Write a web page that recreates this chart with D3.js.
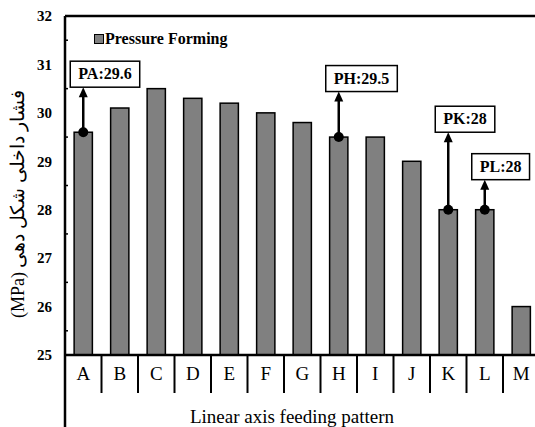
<!DOCTYPE html>
<html>
<head>
<meta charset="utf-8">
<script src="https://cdn.jsdelivr.net/npm/d3@7"></script>
<style>
  body { margin: 0; background: #fff; }
</style>
</head>
<body>
<svg width="535" height="427" style="font-family: 'Liberation Serif', 'Times New Roman', Times, serif;"></svg>
<script>

let categories = ['A', 'B', 'C', 'D', 'E', 'F', 'G', 'H', 'I', 'J', 'K', 'L', 'M'];
let pressure = [29.6, 30.1, 30.5, 30.3, 30.2, 30.0, 29.8, 29.5, 29.5, 29.0, 28.0, 28.0, 26.0];
let yTicks = [25, 26, 27, 28, 29, 30, 31, 32];

// callouts: category, label, arrow tip value
let calloutCats = ['A', 'H', 'K', 'L'];
let calloutLabels = ['PA:29.6', 'PH:29.5', 'PK:28', 'PL:28'];
let calloutTips = [30.53, 30.44, 29.6, 28.62];

let svg = d3.select('svg');
let width = +svg.attr('width');
let height = +svg.attr('height');

let margin = { top: 16, right: -4.5, bottom: 72, left: 65 };

let x = d3.scaleBand()
    .domain(categories)
    .range([margin.left, width - margin.right])
    .paddingInner(0.5)
    .paddingOuter(0.25);

let cell = d3.scaleBand()
    .domain(categories)
    .range([margin.left, width - margin.right]);

let y = d3.scaleLinear()
    .domain([25, 32])
    .range([height - margin.bottom, margin.top]);

// bars
svg.selectAll('rect.bar')
    .data(pressure)
    .enter().append('rect')
    .attr('class', 'bar')
    .attr('x', (d, i) => x(categories[i]))
    .attr('y', d => y(d))
    .attr('width', x.bandwidth())
    .attr('height', d => y(25) - y(d))
    .style('fill', '#808080')
    .style('stroke', '#000')
    .style('stroke-width', 1.5);

// minor ticks on left axis (inside)
svg.append('g')
    .selectAll('line')
    .data(d3.range(25.5, 32, 1))
    .enter().append('line')
    .attr('x1', margin.left)
    .attr('x2', margin.left + 3)
    .attr('y1', d => y(d))
    .attr('y2', d => y(d))
    .style('stroke', '#000')
    .style('stroke-width', 1.5);

// y tick labels
svg.append('g')
    .selectAll('text')
    .data(yTicks)
    .enter().append('text')
    .attr('x', margin.left - 13)
    .attr('y', d => y(d))
    .attr('dy', '0.35em')
    .attr('text-anchor', 'end')
    .style('font-size', '15px')
    .style('font-weight', 'bold')
    .text(d => d);

// frame lines
svg.append('line')
    .attr('x1', margin.left).attr('x2', width)
    .attr('y1', y(32)).attr('y2', y(32))
    .style('stroke', '#000').style('stroke-width', 2.5);

svg.append('line')
    .attr('x1', margin.left).attr('x2', width)
    .attr('y1', y(25)).attr('y2', y(25))
    .style('stroke', '#000').style('stroke-width', 2.5);

svg.append('line')
    .attr('x1', margin.left).attr('x2', margin.left)
    .attr('y1', y(32)).attr('y2', height)
    .style('stroke', '#000').style('stroke-width', 2.5);

// category cells
svg.append('g')
    .selectAll('line')
    .data(categories.slice(1))
    .enter().append('line')
    .attr('x1', d => cell(d))
    .attr('x2', d => cell(d))
    .attr('y1', y(25))
    .attr('y2', y(25) + 38)
    .style('stroke', '#000')
    .style('stroke-width', 2);

svg.append('g')
    .selectAll('text')
    .data(categories)
    .enter().append('text')
    .attr('x', d => cell(d) + cell.bandwidth() / 2)
    .attr('y', y(25) + 25)
    .attr('text-anchor', 'middle')
    .style('font-size', '19px')
    .text(d => d);

// axis titles
svg.append('text')
    .attr('x', 292)
    .attr('y', 423)
    .attr('text-anchor', 'middle')
    .style('font-size', '19px')
    .text('Linear axis feeding pattern');

svg.append('text')
    .attr('text-anchor', 'middle')
    .attr('transform', 'translate(' + 24 + ',' + 295 + ')rotate(-90)')
    .style('font-size', '18px')
    .text('(MPa)');

svg.append('text')
    .attr('text-anchor', 'middle')
    .attr('transform', 'translate(' + 24 + ',' + 179 + ')rotate(-90)')
    .style('font-size', '19px')
    .text('فشار داخلی شکل دهی');

// legend
svg.append('rect')
    .attr('x', 94.5).attr('y', 34.5)
    .attr('width', 9).attr('height', 9)
    .style('fill', '#808080')
    .style('stroke', '#000')
    .style('stroke-width', 1);

svg.append('text')
    .attr('x', 105)
    .attr('y', 44)
    .style('font-size', '16px')
    .style('font-weight', 'bold')
    .text('Pressure Forming');

// callouts
calloutCats.forEach((c, i) => {
    let cx = x(c) + x.bandwidth() / 2;
    let base = pressure[categories.indexOf(c)];
    let tip = y(calloutTips[i]);

    svg.append('line')
        .attr('x1', cx).attr('x2', cx)
        .attr('y1', y(base)).attr('y2', tip + 8)
        .style('stroke', '#000')
        .style('stroke-width', 2.5);

    svg.append('path')
        .attr('d', 'M' + cx + ',' + tip + 'L' + (cx - 4.5) + ',' + (tip + 10) + 'L' + (cx + 4.5) + ',' + (tip + 10) + 'Z')
        .style('fill', '#000');

    svg.append('circle')
        .attr('cx', cx)
        .attr('cy', y(base))
        .attr('r', 5)
        .style('fill', '#000');

    let g = svg.append('g');
    let box = g.append('rect');
    let t = g.append('text')
        .style('font-size', '16px')
        .style('font-weight', 'bold')
        .text(calloutLabels[i]);
    let w = t.node().getComputedTextLength() + 16;
    let left = cx - 13;
    box.attr('x', left)
        .attr('y', tip - 26)
        .attr('width', w)
        .attr('height', 26)
        .style('fill', '#fff')
        .style('stroke', '#000')
        .style('stroke-width', 1.5);
    t.attr('x', left + w / 2)
        .attr('y', tip - 8)
        .attr('text-anchor', 'middle');
});

</script>
</body>
</html>
